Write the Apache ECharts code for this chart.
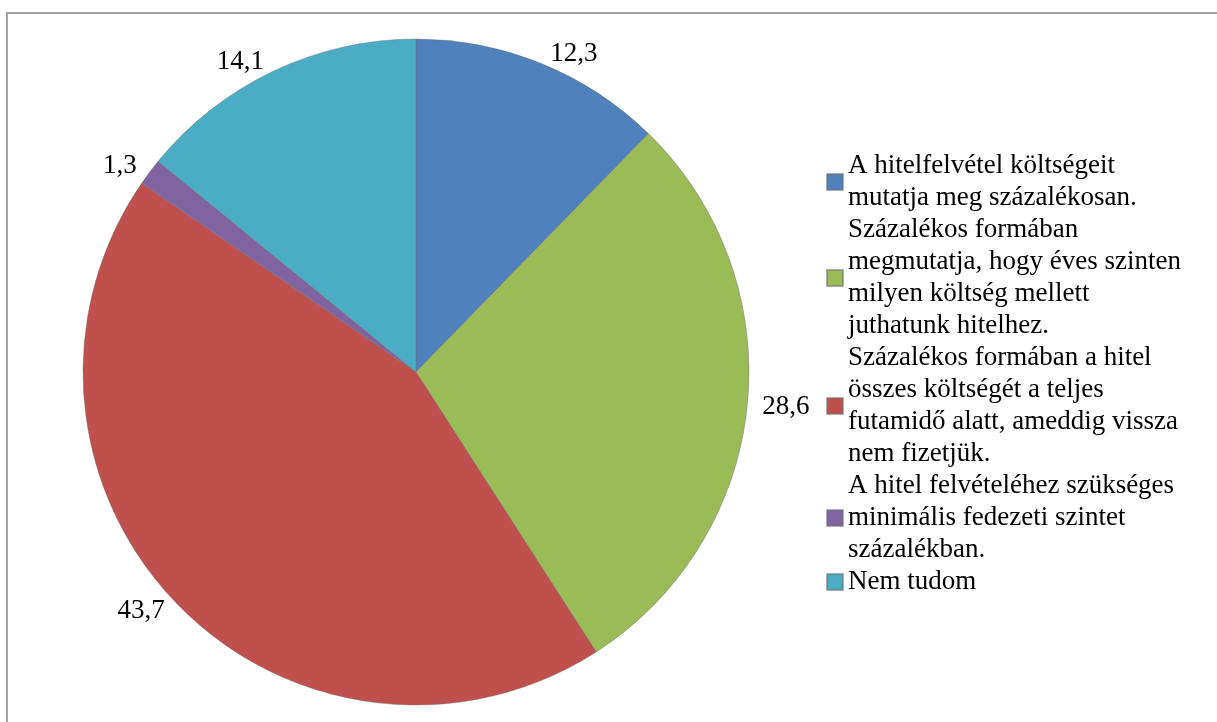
<!DOCTYPE html>
<html>
<head>
<meta charset="utf-8">
<script src="https://cdn.jsdelivr.net/npm/echarts@6/dist/echarts.min.js"></script>
<style>
html,body{margin:0;padding:0;background:#fff;}
#chart{width:1217px;height:722px;}
</style>
</head>
<body>
<div id="chart"></div>
<script>
const categories = [
  'A hitelfelvétel költségeit mutatja meg százalékosan.',
  'Százalékos formában megmutatja, hogy éves szinten milyen költség mellett juthatunk hitelhez.',
  'Százalékos formában a hitel összes költségét a teljes futamidő alatt, ameddig vissza nem fizetjük.',
  'A hitel felvételéhez szükséges minimális fedezeti szintet százalékban.',
  'Nem tudom'
];
const legendLines = [
  ['A hitelfelvétel költségeit', 'mutatja meg százalékosan.'],
  ['Százalékos formában', 'megmutatja, hogy éves szinten', 'milyen költség mellett', 'juthatunk hitelhez.'],
  ['Százalékos formában a hitel', 'összes költségét a teljes', 'futamidő alatt, ameddig vissza', 'nem fizetjük.'],
  ['A hitel felvételéhez szükséges', 'minimális fedezeti szintet', 'százalékban.'],
  ['Nem tudom']
];
const values = [12.3, 28.6, 43.7, 1.3, 14.1];
const colors = ['#4F81BD', '#9BBB59', '#C0504D', '#8064A2', '#4BACC6'];

const chart = echarts.init(document.getElementById('chart'), null, {renderer: 'canvas'});
const fontFamily = 'Liberation Serif';

chart.setOption({
  animation: false,
  color: colors,
  graphic: [
    {type: 'line', shape: {x1: 7, y1: 13, x2: 1217, y2: 13}, style: {stroke: '#a3a3a3', lineWidth: 2}},
    {type: 'line', shape: {x1: 7, y1: 12, x2: 7, y2: 722}, style: {stroke: '#a3a3a3', lineWidth: 2}}
  ],
  legend: {
    orient: 'vertical',
    left: 826,
    top: 150,
    padding: 0,
    itemGap: 0,
    itemWidth: 16,
    itemHeight: 16,
    icon: 'rect',
    selectedMode: false,
    data: categories,
    formatter: function (name) {
      const i = categories.indexOf(name);
      return legendLines[i].join('\n');
    },
    textStyle: {
      fontFamily: fontFamily,
      fontSize: 27,
      lineHeight: 32,
      color: '#000'
    }
  },
  series: [{
    type: 'pie',
    center: [416, 372],
    radius: 333,
    startAngle: 90,
    clockwise: true,
    avoidLabelOverlap: false,
    silent: true,
    itemStyle: {borderColor: 'rgba(110,110,110,0.55)', borderWidth: 0.8},
    label: {
      show: true,
      position: 'outside',
      fontFamily: fontFamily,
      fontSize: 27,
      color: '#000',
      formatter: function (p) { return String(p.value).replace('.', ','); }
    },
    labelLine: {show: false, length: 10, length2: 0},
    data: categories.map((c, i) => ({name: c, value: values[i]}))
  }]
});
</script>
</body>
</html>
